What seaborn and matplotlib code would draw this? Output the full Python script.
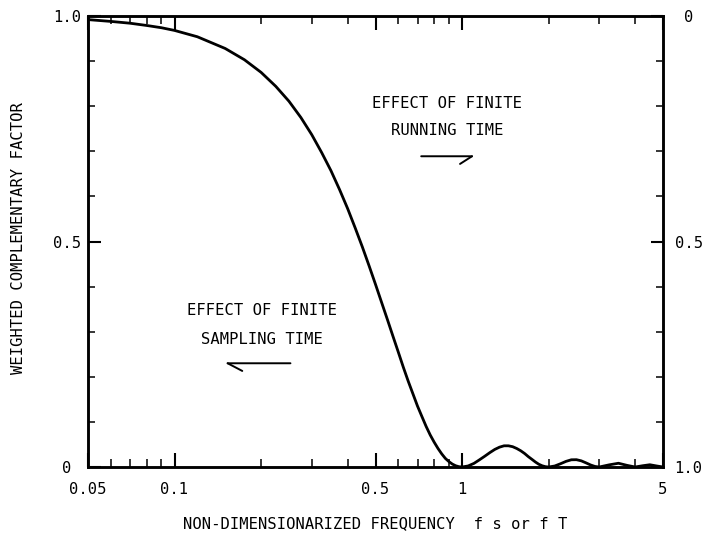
import numpy as np
import pandas as pd
import matplotlib
matplotlib.use("Agg")
import matplotlib.pyplot as plt
import seaborn as sns
from matplotlib.ticker import FixedLocator, NullFormatter

# Values
freq = [0.05, 0.06, 0.07, 0.08, 0.09, 0.10, 0.12, 0.15, 0.175, 0.20, 0.225, 0.25, 0.275,
        0.30, 0.325, 0.35, 0.375, 0.40, 0.425, 0.45, 0.475, 0.50, 0.525, 0.55, 0.575,
        0.60, 0.625, 0.65, 0.675, 0.70, 0.725, 0.75, 0.775, 0.80, 0.825, 0.85, 0.875,
        0.90, 0.925, 0.95, 0.975, 1.00, 1.05, 1.10, 1.15, 1.20, 1.25, 1.30, 1.35, 1.40,
        1.45, 1.50, 1.55, 1.60, 1.65, 1.70, 1.75, 1.80, 1.85, 1.90, 1.95, 2.00, 2.10,
        2.20, 2.30, 2.40, 2.50, 2.60, 2.70, 2.80, 2.90, 3.00, 3.25, 3.50, 3.75, 4.00,
        4.25, 4.50, 4.75, 5.00]
factor = [0.992, 0.988, 0.984, 0.979, 0.974, 0.968, 0.954, 0.928, 0.903, 0.875, 0.844, 0.811, 0.775,
          0.737, 0.697, 0.657, 0.615, 0.573, 0.530, 0.488, 0.446, 0.405, 0.365, 0.327, 0.290,
          0.255, 0.221, 0.190, 0.162, 0.135, 0.112, 0.090, 0.071, 0.055, 0.041, 0.029, 0.019,
          0.012, 0.0065, 0.0028, 0.0007, 0.0, 0.0023, 0.008, 0.016, 0.024, 0.032, 0.039, 0.044, 0.047,
          0.047, 0.045, 0.041, 0.036, 0.030, 0.023, 0.017, 0.011, 0.006, 0.0027, 0.0007, 0.0, 0.0022,
          0.0072, 0.0125, 0.016, 0.0162, 0.0136, 0.0091, 0.0045, 0.0012, 0.0, 0.0048, 0.0083, 0.0036, 0.0,
          0.0028, 0.005, 0.0023, 0.0]

x_major = [0.05, 0.1, 0.5, 1, 5]
x_major_labels = ["0.05", "0.1", "0.5", "1", "5"]
x_minor = [0.06, 0.07, 0.08, 0.09, 0.2, 0.3, 0.4, 0.6, 0.7, 0.8, 0.9, 2, 3, 4]
y_major = [0, 0.5, 1.0]
y_minor = [0.1, 0.2, 0.3, 0.4, 0.6, 0.7, 0.8, 0.9]
y_labels_left = ["0", "0.5", "1.0"]
y_labels_right = ["0", "0.5", "1.0"]

sns.set_style("ticks")
plt.rcParams["font.family"] = ["DejaVu Sans Mono", "DejaVu Sans"]
plt.rcParams["font.stretch"] = "condensed"
plt.rcParams["text.color"] = "black"
plt.rcParams["axes.labelcolor"] = "black"

FS = 11.2

fig = plt.figure(figsize=(7.06, 5.36), dpi=100)
ax = fig.add_axes([88/706, 69/536, 575/706, 451/536])

df = pd.DataFrame({"f": freq, "w": factor})
sns.lineplot(data=df, x="f", y="w", ax=ax, color="black", linewidth=2.0, sort=False)

ax.set_xscale("log")
ax.set_xlim(0.05, 5)
ax.set_ylim(0, 1)

for s in ax.spines.values():
    s.set_linewidth(1.8)
    s.set_color("black")

ax.xaxis.set_major_locator(FixedLocator(x_major))
ax.set_xticklabels(x_major_labels)
ax.xaxis.set_minor_locator(FixedLocator(x_minor))
ax.xaxis.set_minor_formatter(NullFormatter())
ax.set_yticks(y_major)
ax.set_yticklabels(y_labels_left)
ax.yaxis.set_minor_locator(FixedLocator(y_minor))

ax.tick_params(axis="x", which="major", direction="in", length=10, width=1.5,
               top=True, labelsize=FS, colors="black", pad=11)
ax.tick_params(axis="x", which="minor", direction="in", length=6, width=1.3, top=True)
ax.tick_params(axis="y", which="major", direction="in", length=9, width=1.5,
               right=False, labelsize=FS, colors="black", pad=15)
ax.tick_params(axis="y", which="minor", direction="in", length=5, width=1.3, right=False)
for lab in ax.get_yticklabels():
    lab.set_horizontalalignment("center")

ax2 = ax.twinx()
ax2.set_ylim(1, 0)
ax2.set_yticks(y_major)
ax2.set_yticklabels(y_labels_right)
ax2.yaxis.set_minor_locator(FixedLocator(y_minor))
ax2.tick_params(axis="y", which="major", direction="in", length=9, width=1.5,
                labelsize=FS, pad=18.5, colors="black")
ax2.tick_params(axis="y", which="minor", direction="in", length=5, width=1.3)
for lab in ax2.get_yticklabels():
    lab.set_horizontalalignment("center")
for s in ax2.spines.values():
    s.set_linewidth(1.8)
    s.set_color("black")

ax.set_xlabel("NON-DIMENSIONARIZED FREQUENCY  f s or f T", fontsize=FS)
ax.xaxis.set_label_coords(0.499, -0.108)
ax.set_ylabel("WEIGHTED COMPLEMENTARY FACTOR", fontsize=FS)
ax.yaxis.set_label_coords(-0.108, 0.507)

ax.text(0.887, 0.777, "EFFECT OF FINITE\nRUNNING TIME", ha="center", va="center",
        fontsize=FS, linespacing=2.0)
ax.annotate("", xy=(1.083, 0.689), xytext=(0.721, 0.689),
            arrowprops=dict(arrowstyle="-", lw=1.4, color="black", shrinkA=0, shrinkB=0))
ax.annotate("", xy=(1.083, 0.689), xytext=(0.984, 0.672),
            arrowprops=dict(arrowstyle="-", lw=1.4, color="black", shrinkA=0, shrinkB=0))
ax.text(0.202, 0.315, "EFFECT OF FINITE\nSAMPLING TIME", ha="center", va="center",
        fontsize=FS, linespacing=2.1)
ax.annotate("", xy=(0.153, 0.23), xytext=(0.253, 0.23),
            arrowprops=dict(arrowstyle="-", lw=1.4, color="black", shrinkA=0, shrinkB=0))
ax.annotate("", xy=(0.153, 0.23), xytext=(0.172, 0.213),
            arrowprops=dict(arrowstyle="-", lw=1.4, color="black", shrinkA=0, shrinkB=0))

fig.savefig("out.png", dpi=100)
